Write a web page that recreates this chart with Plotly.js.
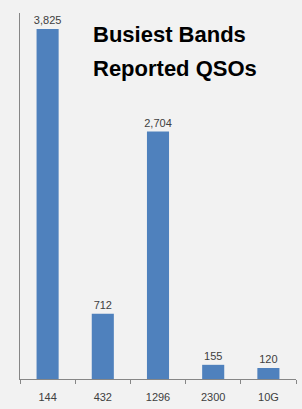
<!DOCTYPE html>
<html><head><meta charset="utf-8">
<script src="https://cdn.plot.ly/plotly-3.0.1.min.js"></script>
<style>html,body{margin:0;padding:0;background:#f2f2f2;}#c{width:302px;height:409px;}</style>
</head><body><div id="c"></div>
<script>
const bands = ["144", "432", "1296", "2300", "10G"];
const qsos = [3825, 712, 2704, 155, 120];
const valueLabels = ["3,825", "712", "2,704", "155", "120"];
const titleLines = ["Busiest Bands", "Reported QSOs"];

const H = 366;
function py(p){ return (379 - p) / H; }

Plotly.newPlot('c', [{
  type: 'bar', x: bands, y: qsos, text: valueLabels,
  textposition: 'outside', cliponaxis: false, constraintext: 'none',
  textfont: {family: 'Liberation Sans, Arial, sans-serif', size: 11, color: '#404040'},
  marker: {color: '#4f81bd'}, hoverinfo: 'none'
}], {
  width: 302, height: 409,
  margin: {l: 20, r: 6, t: 13, b: 30},
  paper_bgcolor: '#f2f2f2', plot_bgcolor: '#f2f2f2',
  bargap: 0.6, showlegend: false,
  font: {family: 'Liberation Sans, Arial, sans-serif', color: '#404040'},
  xaxis: {type: 'category', showline: true, linecolor: '#868686', linewidth: 1,
    ticks: 'outside', tickson: 'boundaries', ticklen: 4, tickcolor: '#868686',
    ticklabelstandoff: 8,
    tickfont: {size: 11, color: '#404040'}, showgrid: false, zeroline: false},
  yaxis: {range: [0, 4000], showline: true, linecolor: '#868686', linewidth: 1,
    showticklabels: false, ticks: '', showgrid: false, zeroline: false},
  annotations: [
    {text: titleLines[0], xref: 'paper', yref: 'paper', x: 0.257, y: py(35), xanchor: 'left', yanchor: 'middle',
     showarrow: false, font: {family: 'Liberation Sans, Arial, sans-serif', size: 22, color: '#000', weight: 'bold'}},
    {text: titleLines[1], xref: 'paper', yref: 'paper', x: 0.257, y: py(69), xanchor: 'left', yanchor: 'middle',
     showarrow: false, font: {family: 'Liberation Sans, Arial, sans-serif', size: 22, color: '#000', weight: 'bold'}}
  ]
}, {staticPlot: true});
</script></body></html>
